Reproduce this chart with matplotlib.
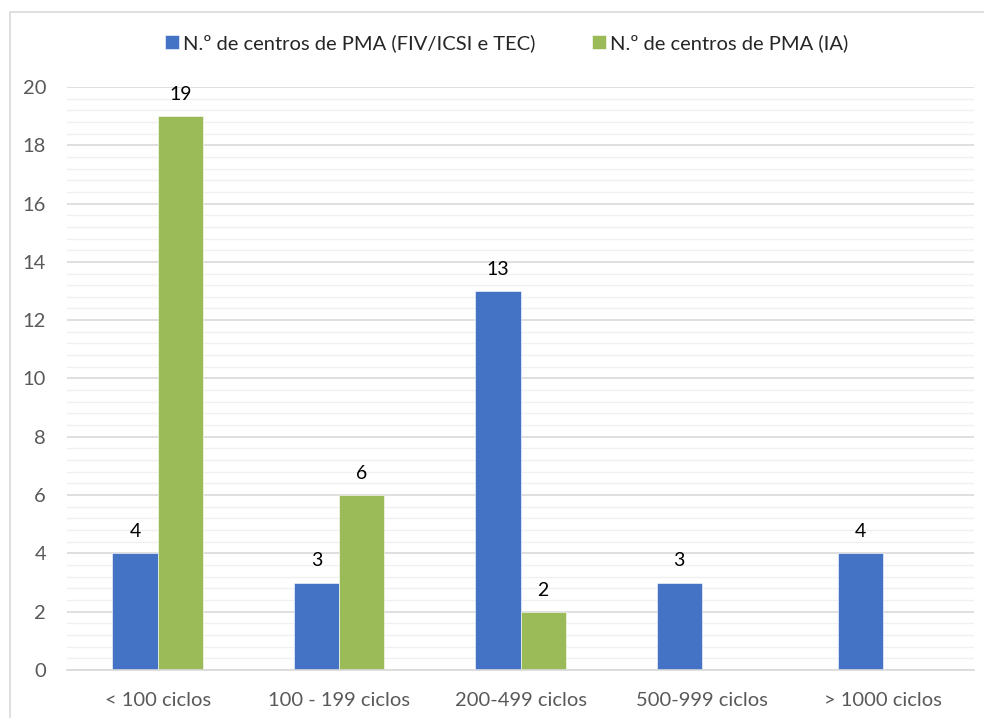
import numpy as np
import matplotlib.pyplot as plt
from matplotlib.patches import Rectangle
from matplotlib.ticker import MultipleLocator

categories = ['< 100 ciclos', '100 - 199 ciclos', '200-499 ciclos', '500-999 ciclos', '> 1000 ciclos']
fiv_icsi_tec = [4, 3, 13, 3, 4]
ia = [19, 6, 2, None, None]
series_names = ['N.º de centros de PMA (FIV/ICSI e TEC)', 'N.º de centros de PMA (IA)']

plt.rcParams['font.family'] = ['Lato', 'DejaVu Sans']

fig = plt.figure(figsize=(9.84, 7.18), dpi=100)
ax = fig.add_axes([0.068, 0.0669, 0.922, 0.812])

# chart border like the spreadsheet chart area
fig.patches.append(Rectangle((10 / 984, -0.05), 1.1, 1 - 12 / 718 + 0.05,
                             transform=fig.transFigure, fill=False,
                             edgecolor='#d9d9d9', linewidth=1.2))

x = np.arange(len(categories))
w = 0.25
blue, green = '#4472C4', '#9BBB59'

b1 = ax.bar(x - w / 2, fiv_icsi_tec, w, color=blue, label=series_names[0],
            edgecolor='white', linewidth=0.4)
ia_x = [i for i, v in enumerate(ia) if v is not None]
ia_v = [v for v in ia if v is not None]
b2 = ax.bar(np.array(ia_x) + w / 2, ia_v, w, color=green, label=series_names[1],
            edgecolor='white', linewidth=0.4)

for bars in (b1, b2):
    for r in bars:
        ax.text(r.get_x() + r.get_width() / 2, r.get_height() + 0.45,
                f'{int(r.get_height())}', ha='center', va='bottom',
                fontsize=14, color='black')

ax.set_xlim(-0.5, len(categories) - 0.5)
ax.set_ylim(0, 20)
ax.yaxis.set_major_locator(MultipleLocator(2))
ax.yaxis.set_minor_locator(MultipleLocator(0.4))
ax.grid(axis='y', which='major', color='#d9d9d9', linewidth=1.2)
ax.grid(axis='y', which='minor', color='#f0f0f0', linewidth=1.0)
ax.set_axisbelow(True)

ax.set_xticks(x)
ax.set_xticklabels(categories)
ax.tick_params(axis='both', which='both', length=0, labelsize=14.5, colors='#595959')
ax.tick_params(axis='x', pad=16)
ax.tick_params(axis='y', pad=15)

for s in ['top', 'right', 'left']:
    ax.spines[s].set_visible(False)
ax.spines['bottom'].set_color('#d9d9d9')
ax.spines['bottom'].set_linewidth(1.2)

fig.legend(loc='center', bbox_to_anchor=(0.515, 1 - 43 / 718), ncol=2, frameon=False,
           fontsize=14.5, handlelength=0.7, handleheight=0.7, handletextpad=0.2,
           columnspacing=2.8, labelcolor='#262626')

fig.savefig('out.png', dpi=100)
